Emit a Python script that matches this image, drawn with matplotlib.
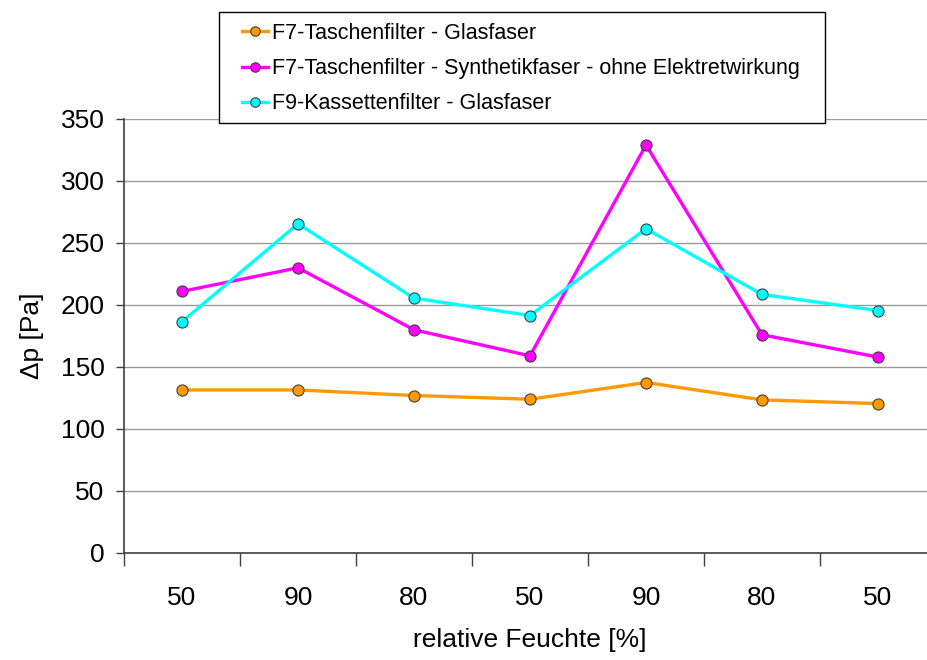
import matplotlib
matplotlib.use("Agg")
import matplotlib.pyplot as plt
from matplotlib.patches import Rectangle
import numpy as np

plt.rcParams['font.family'] = ['Liberation Sans', 'DejaVu Sans']

categories = ["50", "90", "80", "50", "90", "80", "50"]
f7_glas = [131.5, 131.5, 127, 124, 137.5, 123.5, 120.5]
f7_synth = [211, 230, 180, 159, 329, 176, 158]
f9_glas = [186.5, 265.5, 205.5, 191.5, 261.5, 208.5, 195.5]
labels = ["F7-Taschenfilter - Glasfaser",
          "F7-Taschenfilter - Synthetikfaser - ohne Elektretwirkung",
          "F9-Kassettenfilter - Glasfaser"]
colors = ["#FF9900", "#FF00FF", "#00FFFF"]

W, H = 927, 660
fig = plt.figure(figsize=(W/100, H/100), dpi=100)
ax = fig.add_axes([124/W, (H-553)/H, 812/W, 434/H])

x = np.arange(len(categories))
for ys, c, lab in zip([f7_glas, f7_synth, f9_glas], colors, labels):
    ax.plot(x, ys, color=c, lw=2.4, marker='o', ms=8, mfc=c, mec='#404040',
            mew=0.8, label=lab, zorder=3)

ax.set_xlim(-0.5, len(categories) - 0.5)
ax.set_ylim(0, 350)
ax.set_yticks(np.arange(0, 351, 50))
ax.yaxis.grid(True, color='#999999', lw=1)
ax.set_axisbelow(True)

ax.set_xticks(np.arange(-0.5, len(categories), 1.0))
ax.set_xticklabels([])
ax.set_xticks(x, minor=True)
ax.set_xticklabels(categories, minor=True)
ax.tick_params(axis='x', which='major', length=9, width=1, color='#404040', direction='out')
ax.tick_params(axis='x', which='minor', length=0, pad=24, labelsize=19)
ax.tick_params(axis='y', length=6, width=1, color='#404040', direction='out', labelsize=19, pad=8)

for s in ['top', 'right']:
    ax.spines[s].set_visible(False)
for s in ['left', 'bottom']:
    ax.spines[s].set_color('#404040')
    ax.spines[s].set_linewidth(1.2)

ax.set_xlabel("relative Feuchte [%]", fontsize=19, labelpad=13)
ax.set_ylabel("Δp [Pa]", fontsize=19, labelpad=12)

# legend frame box
box = Rectangle((219/W, 1 - 123/H), (825-219)/W, (123-12)/H, transform=fig.transFigure,
                facecolor='white', edgecolor='black', lw=1.0, zorder=9)
fig.add_artist(box)

leg = fig.legend(loc='upper left', bbox_to_anchor=(242/W, 1 - 23/H), borderaxespad=0,
                 fontsize=15.5, frameon=False,
                 handlelength=1.2, labelspacing=0.66, borderpad=0.0,
                 handletextpad=0.2, markerscale=0.85)
leg.set_zorder(10)

fig.savefig("out.png", dpi=100)
